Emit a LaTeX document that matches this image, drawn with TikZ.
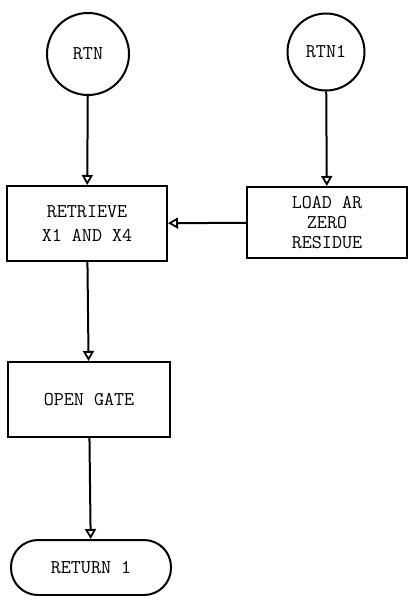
\documentclass[tikz,border=0pt]{standalone}
\usetikzlibrary{arrows.meta}
\begin{document}
\begin{tikzpicture}[x=1pt,y=-1pt,
  every node/.style={font=\fontsize{19.5}{20}\selectfont\ttfamily, line width=2pt, inner sep=0pt},
  conn/.style={draw, circle, minimum size=#1},
  procbox/.style={draw, rectangle},
  term/.style={draw, rectangle, rounded corners=27pt, minimum width=160pt, minimum height=55pt},
  flow/.style={line width=2pt, -{Triangle[open, length=10pt, width=11pt, line width=1.8pt]}}
]
\useasboundingbox (0,0) rectangle (409,596);
\node[conn=82pt] (rtn) at (88,54) {RTN};
\node[conn=77pt] (rtn1) at (326,52) {RTN1};
\node[procbox, minimum width=160pt, minimum height=75pt, align=center, font=\fontsize{19.5}{24}\selectfont\ttfamily] (ret) at (87,223.5) {RETRIEVE\\X1 AND X4};
\node[procbox, minimum width=160pt, minimum height=71pt, align=center, font=\fontsize{19.5}{20}\selectfont\ttfamily] (load) at (327,222.5) {LOAD AR\\ZERO\\RESIDUE};
\node[procbox, minimum width=162pt, minimum height=75pt] (gate) at (89,399.5) {OPEN GATE};
\node[term] (retn) at (91,567.5) {RETURN 1};
\draw[flow] (rtn) -- (ret);
\draw[flow] (rtn1) -- (load);
\draw[flow] (load) -- (ret);
\draw[flow] (ret) -- (gate);
\draw[flow] (gate) -- (retn);
\end{tikzpicture}
\end{document}
